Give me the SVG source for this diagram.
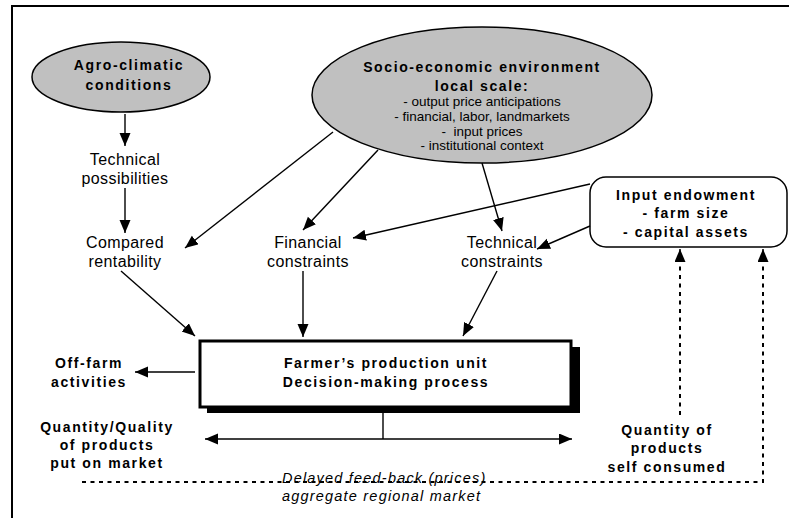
<svg xmlns="http://www.w3.org/2000/svg" width="789" height="518" viewBox="0 0 789 518">
<defs>
<style>
.b{font-family:"Liberation Sans",Arial,sans-serif;font-weight:bold;font-size:14px;letter-spacing:1.6px;fill:#000;text-anchor:middle}
.r{font-family:"Liberation Sans",Arial,sans-serif;font-size:16px;letter-spacing:0.4px;fill:#000;text-anchor:middle}
.s{font-family:"Liberation Sans",Arial,sans-serif;font-size:13.5px;fill:#000;text-anchor:middle;white-space:pre}
.i{font-family:"Liberation Sans",Arial,sans-serif;font-style:italic;font-size:14.5px;letter-spacing:1.2px;fill:#000}
.ln{stroke:#000;stroke-width:1.4;fill:none}
.dt{stroke:#000;stroke-width:2;fill:none;stroke-dasharray:4 4.5}
.ell{fill:#c0c0c0;stroke:#000;stroke-width:1.5}
</style>
<marker id="ah" markerUnits="userSpaceOnUse" markerWidth="14" markerHeight="12" refX="13" refY="5.5" orient="auto">
<path d="M0,0 L13,5.5 L0,11 z" fill="#000"/>
</marker>
</defs>
<rect width="789" height="518" fill="#fff"/>
<path d="M12,518 L12,6 L789,6" fill="none" stroke="#000" stroke-width="2"/>

<g id="agro">
<ellipse class="ell" cx="121" cy="77" rx="89" ry="35"/>
<text class="b" x="129" y="70">Agro-climatic</text>
<text class="b" x="129" y="90">conditions</text>
</g>

<g id="socio">
<ellipse class="ell" cx="482" cy="95" rx="170" ry="68"/>
<text class="b" x="482" y="72">Socio-economic environment</text>
<text class="b" x="482" y="91">local scale:</text>
<text class="s" x="482" y="106">- output price anticipations</text>
<text class="s" x="482" y="121">- financial, labor, landmarkets</text>
<text class="s" x="482" y="136">-  input prices</text>
<text class="s" x="482" y="150">- institutional context</text>
</g>

<g id="input">
<rect x="590" y="177" width="197" height="70" rx="16" ry="16" fill="#fff" stroke="#000" stroke-width="1.5"/>
<text class="b" x="686" y="200">Input endowment</text>
<text class="b" x="686" y="218">- farm size</text>
<text class="b" x="686" y="237">- capital assets</text>
</g>

<g id="techposs">
<text class="r" x="125" y="165">Technical</text>
<text class="r" x="125" y="184">possibilities</text>
</g>

<g id="compared">
<text class="r" x="125" y="248">Compared</text>
<text class="r" x="125" y="267">rentability</text>
</g>

<g id="financial">
<text class="r" x="308" y="248">Financial</text>
<text class="r" x="308" y="267">constraints</text>
</g>

<g id="technical">
<text class="r" x="502" y="248">Technical</text>
<text class="r" x="502" y="267">constraints</text>
</g>

<g id="farmer">
<rect x="207" y="347" width="373" height="66" fill="#000"/>
<rect x="200" y="341" width="371" height="66" fill="#fff" stroke="#000" stroke-width="3"/>
<text class="b" x="386" y="368">Farmer’s production unit</text>
<text class="b" x="386" y="387">Decision-making process</text>
</g>

<g id="offfarm">
<text class="b" x="89" y="368">Off-farm</text>
<text class="b" x="89" y="387">activities</text>
</g>

<g id="market">
<text class="b" x="107" y="432">Quantity/Quality</text>
<text class="b" x="107" y="450">of products</text>
<text class="b" x="107" y="468">put on market</text>
</g>

<g id="selfcons">
<text class="b" x="667" y="435">Quantity of</text>
<text class="b" x="667" y="453">products</text>
<text class="b" x="667" y="472">self consumed</text>
</g>

<g id="connectors">
<line class="ln" x1="125" y1="114" x2="125" y2="146" marker-end="url(#ah)"/>
<line class="ln" x1="125" y1="188" x2="125" y2="233" marker-end="url(#ah)"/>
<line class="ln" x1="333" y1="132" x2="185" y2="248" marker-end="url(#ah)"/>
<line class="ln" x1="378" y1="150" x2="303" y2="230" marker-end="url(#ah)"/>
<line class="ln" x1="482" y1="163" x2="502" y2="231" marker-end="url(#ah)"/>
<line class="ln" x1="590" y1="184" x2="353" y2="238" marker-end="url(#ah)"/>
<line class="ln" x1="590" y1="226" x2="537" y2="249" marker-end="url(#ah)"/>
<line class="ln" x1="121" y1="271" x2="195" y2="336" marker-end="url(#ah)"/>
<line class="ln" x1="303" y1="271" x2="303" y2="337" marker-end="url(#ah)"/>
<line class="ln" x1="497" y1="271" x2="463" y2="336" marker-end="url(#ah)"/>
<line class="ln" x1="195" y1="372" x2="135" y2="372" marker-end="url(#ah)"/>
<line class="ln" x1="383" y1="413" x2="383" y2="439"/>
<line class="ln" x1="383" y1="439" x2="205" y2="439" marker-end="url(#ah)"/>
<line class="ln" x1="383" y1="439" x2="572" y2="439" marker-end="url(#ah)"/>
<line class="dt" x1="680" y1="415" x2="680" y2="260"/>
<line class="ln" x1="680" y1="262" x2="680" y2="249" marker-end="url(#ah)"/>
<path class="dt" d="M82,482 L763,482 L763,260"/>
<line class="ln" x1="763" y1="262" x2="763" y2="249" marker-end="url(#ah)"/>
</g>

<g id="feedback">
<text class="i" x="282" y="483">Delayed feed-back (prices)</text>
<text class="i" x="282" y="501">aggregate regional market</text>
</g>
</svg>
